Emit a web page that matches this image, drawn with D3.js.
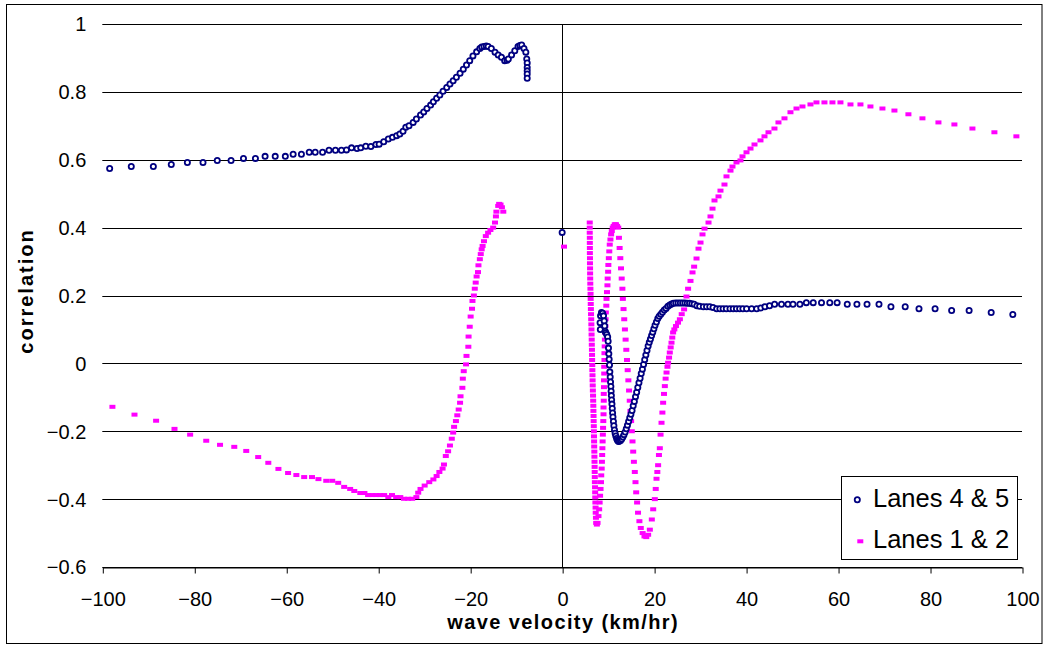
<!DOCTYPE html>
<html>
<head>
<meta charset="utf-8">
<script src="https://cdn.jsdelivr.net/npm/d3@7"></script>
<style>
  html, body { margin: 0; padding: 0; background: #fff; }
  svg { display: block; }
  text { font-family: "Liberation Sans", Arial, sans-serif; fill: #000; }
</style>
</head>
<body>
<svg id="chart" width="1047" height="646"></svg>
<script>
// ---------- DATA ----------
const xTicks = [-100, -80, -60, -40, -20, 0, 20, 40, 60, 80, 100];
const yTicks = [-0.6, -0.4, -0.2, 0, 0.2, 0.4, 0.6, 0.8, 1];
const seriesNames = ["Lanes 4 & 5", "Lanes 1 & 2"];

// Lanes 4 & 5, negative velocities
const lanes45Left = [
  [-98.4,0.574],[-93.7,0.580],[-88.9,0.580],[-85.0,0.586],[-81.5,0.592],[-78.1,0.592],
  [-75.0,0.598],[-72.0,0.598],[-69.3,0.604],[-66.7,0.604],[-64.6,0.610],[-62.4,0.610],
  [-60.2,0.610],[-58.5,0.616],[-56.7,0.616],[-55.0,0.622],[-53.7,0.622],[-52.1,0.622],
  [-50.7,0.628],[-49.3,0.628],[-48.0,0.628],[-46.9,0.629],[-45.8,0.635],[-44.6,0.633],
  [-43.8,0.635],[-42.7,0.640],[-41.6,0.639],[-40.5,0.645],[-39.8,0.646],[-38.8,0.653],
  [-37.8,0.661],[-36.9,0.666],[-36.0,0.671],[-35.3,0.676],[-34.6,0.684],[-34.0,0.696],
  [-33.3,0.700],[-32.4,0.710],[-31.7,0.720],[-30.8,0.732],[-30.1,0.741],[-29.4,0.751],
  [-28.6,0.761],[-28.0,0.771],[-27.3,0.781],[-26.6,0.791],[-25.9,0.802],[-25.1,0.813],
  [-24.4,0.823],[-23.7,0.833],[-23.0,0.843],[-22.2,0.855],[-21.5,0.867],[-20.8,0.879],
  [-20.1,0.892],[-19.4,0.906],[-18.6,0.918],[-17.9,0.928],[-17.5,0.932],[-17.0,0.934],
  [-16.5,0.935],[-16.1,0.934],[-15.4,0.928],[-14.6,0.917],[-13.9,0.909],[-13.2,0.902],
  [-12.5,0.892],[-12.0,0.893],[-11.7,0.897],[-11.0,0.909],[-10.3,0.921],[-9.6,0.934],
  [-9.2,0.937],[-8.8,0.938],[-8.3,0.928],[-7.9,0.917],[-7.7,0.897],[-7.6,0.885],
  [-7.6,0.872],[-7.6,0.862],[-7.6,0.853],[-7.6,0.840]
];
const lanes45Zero = [[0, 0.386]];
// Lanes 4 & 5, positive velocities
const lanes45Right = [
  [8.3,0.100],[8.25,0.120],[8.35,0.140],[8.55,0.150],[8.8,0.148],[9.0,0.140],[9.15,0.125],
  [9.25,0.110],[9.35,0.095],[9.5,0.090],[9.7,0.085],[9.9,0.078],[10.0,0.065],[10.08,0.045],
  [10.15,0.028],[10.22,0.012],[10.3,-0.005],[10.37,-0.025],[10.45,-0.040],[10.52,-0.055],
  [10.59,-0.068],[10.65,-0.082],[10.7,-0.095],[10.76,-0.108],[10.83,-0.120],[10.9,-0.133],
  [10.97,-0.146],[11.05,-0.158],[11.15,-0.171],[11.25,-0.184],[11.38,-0.196],[11.52,-0.206],
  [11.67,-0.214],[11.85,-0.221],[12.0,-0.226],[12.17,-0.229],[12.3,-0.230],[12.45,-0.229],
  [12.7,-0.227],[12.95,-0.223],[13.2,-0.217],[13.45,-0.210],[13.7,-0.202],[13.95,-0.193],
  [14.2,-0.182],[14.45,-0.171],[14.7,-0.160],[14.95,-0.150],[15.2,-0.139],[15.45,-0.125],
  [15.7,-0.112],[15.95,-0.098],[16.2,-0.085],[16.45,-0.071],[16.7,-0.057],[16.95,-0.044],
  [17.2,-0.030],[17.45,-0.017],[17.7,-0.003],[17.95,0.011],[18.2,0.025],[18.45,0.038],
  [18.7,0.051],[18.95,0.062],[19.2,0.072],[19.45,0.082],[19.7,0.092],[19.95,0.102],
  [20.2,0.112],[20.5,0.122],[20.8,0.132],[21.1,0.139],[21.45,0.145],[21.8,0.151],
  [22.2,0.157],[22.6,0.162],[23.0,0.168],[23.4,0.172],[23.8,0.175],[24.2,0.177],
  [24.7,0.178],[25.2,0.178],[25.7,0.178],[26.2,0.178],[26.7,0.178],[27.2,0.177],
  [27.7,0.177],[28.2,0.176],[28.7,0.174],[29.3,0.170],[29.9,0.168],[30.7,0.167],
  [31.4,0.167],[32.1,0.167],[32.8,0.165],[33.6,0.161],[34.3,0.161],[35.0,0.161],
  [35.7,0.161],[36.5,0.161],[37.2,0.161],[37.9,0.161],[38.6,0.161],[39.3,0.161],
  [40.1,0.161],[41.2,0.161],[42.3,0.161],[43.2,0.163],[44.1,0.167],[45.1,0.170],
  [46.2,0.174],[47.7,0.174],[49.1,0.174],[50.2,0.174],[51.7,0.174],[53.1,0.179],
  [54.6,0.179],[56.4,0.179],[58.2,0.179],[59.8,0.179],[62.0,0.174],[64.1,0.174],
  [66.3,0.174],[68.9,0.174],[71.5,0.167],[74.6,0.167],[77.6,0.161],[81.1,0.161],
  [84.7,0.156],[88.5,0.156],[93.3,0.150],[98.0,0.144]
];

// Lanes 1 & 2, negative velocities
const lanes12Left = [
  [-97.8,-0.128],[-93.0,-0.151],[-88.3,-0.169],[-84.3,-0.193],[-80.9,-0.210],[-77.4,-0.228],
  [-74.4,-0.240],[-71.3,-0.246],[-68.7,-0.258],[-66.1,-0.276],[-63.9,-0.293],[-61.7,-0.311],
  [-59.6,-0.323],[-57.8,-0.329],[-56.1,-0.335],[-54.4,-0.335],[-53.0,-0.341],[-51.3,-0.346],
  [-50.0,-0.346],[-48.7,-0.352],[-47.4,-0.364],[-46.1,-0.370],[-45.2,-0.376],[-43.9,-0.382],
  [-43.0,-0.382],[-42.2,-0.388],[-41.3,-0.388],[-40.4,-0.388],[-39.6,-0.388],[-38.7,-0.388],
  [-37.8,-0.394],[-37.0,-0.388],[-36.1,-0.394],[-35.2,-0.394],[-34.4,-0.399],[-33.5,-0.399],
  [-32.6,-0.399],[-31.7,-0.394],[-31.3,-0.381],[-30.8,-0.370],[-29.9,-0.360],[-28.9,-0.350],
  [-28.0,-0.342],[-27.3,-0.332],[-26.7,-0.320],[-26.0,-0.310],[-25.7,-0.298],[-25.3,-0.273],
  [-24.8,-0.259],[-24.4,-0.242],[-24.0,-0.222],[-23.7,-0.204],[-23.5,-0.187],[-23.1,-0.170],
  [-22.8,-0.153],[-22.5,-0.136],[-22.2,-0.116],[-22.1,-0.097],[-21.7,-0.072],[-21.6,-0.045],
  [-21.4,-0.023],[-20.9,-0.003],[-20.8,0.022],[-20.4,0.049],[-20.35,0.079],[-20.1,0.108],
  [-19.9,0.138],[-19.6,0.161],[-19.5,0.184],[-19.2,0.200],[-19.0,0.220],[-18.8,0.238],
  [-18.6,0.256],[-18.3,0.269],[-18.2,0.289],[-17.9,0.307],[-17.7,0.322],[-17.5,0.336],
  [-17.3,0.346],[-17.0,0.360],[-16.6,0.375],[-16.1,0.385],[-15.6,0.393],[-15.0,0.400],
  [-14.6,0.415],[-14.4,0.433],[-14.3,0.447],[-13.9,0.464],[-13.7,0.470],[-13.4,0.468],
  [-13.1,0.460],[-12.8,0.447]
];
const lanes12Zero = [[0.4, 0.344]];
// Lanes 1 & 2, positive velocities
const lanes12Right = [
  [6.0,0.415],[6.0,0.400],[6.0,0.385],[6.02,0.370],[6.02,0.355],[6.03,0.340],[6.03,0.325],
  [6.05,0.310],[6.05,0.295],[6.07,0.280],[6.08,0.265],[6.1,0.250],[6.12,0.235],[6.15,0.220],
  [6.18,0.205],[6.2,0.190],[6.22,0.175],[6.25,0.160],[6.28,0.145],[6.32,0.130],[6.35,0.115],
  [6.38,0.100],[6.4,0.085],[6.43,0.070],[6.45,0.055],[6.48,0.040],[6.5,0.025],[6.52,0.010],
  [6.55,-0.005],[6.57,-0.020],[6.6,-0.035],[6.62,-0.050],[6.65,-0.065],[6.68,-0.080],
  [6.72,-0.095],[6.75,-0.110],[6.78,-0.125],[6.8,-0.140],[6.83,-0.155],[6.85,-0.170],
  [6.88,-0.185],[6.9,-0.200],[6.92,-0.215],[6.95,-0.230],[6.97,-0.245],[7.0,-0.260],
  [7.02,-0.275],[7.04,-0.290],[7.06,-0.305],[7.08,-0.320],[7.1,-0.335],[7.12,-0.350],
  [7.15,-0.365],[7.18,-0.380],[7.2,-0.395],[7.23,-0.410],[7.27,-0.425],[7.3,-0.440],
  [7.35,-0.455],[7.4,-0.470],[7.55,-0.475],
  [7.7,-0.470],[7.9,-0.450],[8.05,-0.430],[8.15,-0.410],[8.25,-0.390],[8.35,-0.370],
  [8.45,-0.350],[8.5,-0.330],[8.6,-0.310],[8.65,-0.290],[8.7,-0.270],[8.75,-0.250],
  [8.8,-0.230],[8.85,-0.210],[8.9,-0.190],[8.95,-0.170],[9.0,-0.150],[9.0,-0.130],
  [9.05,-0.110],[9.05,-0.090],[9.1,-0.070],[9.1,-0.050],[9.15,-0.030],[9.15,-0.010],
  [9.2,0.010],[9.2,0.030],[9.25,0.050],[9.3,0.070],[9.35,0.090],[9.4,0.110],[9.45,0.130],
  [9.5,0.150],[9.6,0.170],[9.65,0.190],[9.75,0.210],[9.85,0.230],[9.9,0.250],[10.0,0.270],
  [10.05,0.290],[10.15,0.310],[10.25,0.330],[10.35,0.350],[10.5,0.365],[10.65,0.380],
  [10.8,0.390],[11.0,0.400],[11.2,0.405],[11.45,0.410],[11.7,0.410],[11.95,0.405],
  [12.2,0.400],[12.35,0.370],[12.5,0.340],[12.65,0.310],[12.8,0.280],[12.95,0.250],
  [13.1,0.220],[13.2,0.190],[13.35,0.160],[13.5,0.130],[13.65,0.100],[13.8,0.070],
  [13.95,0.040],[14.1,0.010],[14.25,-0.020],[14.4,-0.050],[14.55,-0.080],[14.7,-0.110],
  [14.85,-0.140],[15.0,-0.170],[15.15,-0.200],[15.3,-0.230],[15.45,-0.260],[15.6,-0.290],
  [15.8,-0.320],[15.95,-0.350],[16.1,-0.380],[16.3,-0.410],[16.5,-0.440],[16.8,-0.465],
  [17.1,-0.485],[17.5,-0.500],[17.9,-0.510],[18.3,-0.512],[18.7,-0.505],[19.07,-0.490],
  [19.5,-0.460],[19.8,-0.430],[20.15,-0.400],[20.35,-0.370],[20.52,-0.340],[20.7,-0.320],
  [20.87,-0.300],[21.05,-0.270],[21.24,-0.250],[21.4,-0.210],[21.61,-0.175],[21.8,-0.145],
  [21.96,-0.116],[22.15,-0.090],[22.33,-0.067],[22.5,-0.045],[22.7,-0.027],[22.9,-0.010],
  [23.04,0.002],[23.25,0.017],[23.41,0.032],[23.6,0.047],[23.78,0.061],[23.95,0.076],
  [24.13,0.091],[24.4,0.100],[24.75,0.110],[25.2,0.120],[25.6,0.130],[26.0,0.145],
  [26.52,0.159],[27.04,0.197],[27.39,0.220],[27.91,0.243],[28.35,0.268],[28.7,0.285],
  [29.22,0.309],[29.65,0.338],[30.09,0.356],[30.52,0.380],[30.96,0.397],[31.83,0.415],
  [32.26,0.433],[32.7,0.456],[33.13,0.480],[34.0,0.492],[34.43,0.509],[35.3,0.527],
  [35.74,0.551],[36.61,0.568],[37.04,0.580],[37.91,0.592],[38.78,0.598],[39.22,0.610],
  [40.09,0.622],[40.96,0.633],[41.83,0.645],[43.13,0.657],[44.0,0.669],[44.87,0.681],
  [46.17,0.692],[47.04,0.710],[48.35,0.722],[49.65,0.740],[50.96,0.751],[52.26,0.757],
  [54.0,0.763],[55.3,0.769],[57.04,0.769],[58.78,0.769],[60.52,0.769],[62.7,0.763],
  [64.87,0.763],[67.04,0.757],[69.65,0.751],[72.26,0.745],[75.3,0.734],[78.35,0.722],
  [81.83,0.710],[85.3,0.704],[89.22,0.692],[94.0,0.681],[98.78,0.669]
];

// ---------- CHART ----------
const svg = d3.select("#chart");
const W = 1047, H = 646;
const plot = { left: 102.3, right: 1022, top: 24, bottom: 567 };

const x = d3.scaleLinear().domain([-100, 100]).range([plot.left, plot.right]);
const y = d3.scaleLinear().domain([-0.6, 1]).range([plot.bottom, plot.top]);

svg.append("rect").attr("width", W).attr("height", H).attr("fill", "#fff");
// outer chart border
svg.append("rect")
  .attr("x", 6.5).attr("y", 4.5).attr("width", 1035.5).attr("height", 639)
  .attr("fill", "none").attr("stroke", "#000").attr("stroke-width", 1);

// gridlines
svg.append("g").selectAll("line").data(yTicks).join("line")
  .attr("x1", plot.left).attr("x2", plot.right)
  .attr("y1", d => Math.round(y(d)) + 0.5).attr("y2", d => Math.round(y(d)) + 0.5)
  .attr("stroke", "#000").attr("stroke-width", 1);

// vertical axis line at x = 0
svg.append("line")
  .attr("x1", Math.round(x(0)) + 0.5).attr("x2", Math.round(x(0)) + 0.5)
  .attr("y1", y(1)).attr("y2", y(-0.6))
  .attr("stroke", "#000").attr("stroke-width", 1);

// x axis (at y = -0.6)
const xAxis = d3.axisBottom(x).tickValues(xTicks).tickFormat(d3.format("d"))
  .tickSize(6).tickSizeOuter(0).tickPadding(18);
const gx = svg.append("g").attr("transform", `translate(0.5,${Math.round(y(-0.6)) + 0.5})`).call(xAxis);
gx.select(".domain").attr("stroke", "#000");
gx.selectAll(".tick line").attr("stroke", "#000");
gx.selectAll(".tick text").attr("font-size", 20).attr("font-family", "Liberation Sans, Arial, sans-serif").attr("fill", "#000");

// y axis labels (left)
const yAxis = d3.axisLeft(y).tickValues(yTicks).tickFormat(d => d3.format("")(+d.toFixed(1)))
  .tickSize(0).tickPadding(16);
const gy = svg.append("g").attr("transform", `translate(${plot.left},0.5)`).call(yAxis);
gy.select(".domain").remove();
gy.selectAll(".tick text").attr("font-size", 20).attr("font-family", "Liberation Sans, Arial, sans-serif").attr("fill", "#000");

// axis titles
svg.append("text")
  .attr("x", x(0) + 1).attr("y", 629)
  .attr("text-anchor", "middle").attr("font-size", 20).attr("font-weight", "bold")
  .attr("letter-spacing", "1.4px")
  .text("wave velocity (km/hr)");
svg.append("text")
  .attr("transform", "translate(33,291) rotate(-90)")
  .attr("text-anchor", "middle").attr("font-size", 20).attr("font-weight", "bold")
  .attr("letter-spacing", "2px")
  .text("correlation");

// data: Lanes 1 & 2 (magenta rectangles)
const pink = "#FF00FF", navy = "#000080";
const lanes12 = lanes12Left.concat(lanes12Zero, lanes12Right);
const lanes45 = lanes45Left.concat(lanes45Zero, lanes45Right);
const mw = 6, mh = 4;
svg.append("g").selectAll("rect").data(lanes12).join("rect")
  .attr("x", d => x(d[0]) - mw / 2).attr("y", d => y(d[1]) - mh / 2)
  .attr("width", mw).attr("height", mh).attr("fill", pink);

// data: Lanes 4 & 5 (navy hollow circles)
svg.append("g").selectAll("circle").data(lanes45).join("circle")
  .attr("cx", d => x(d[0])).attr("cy", d => y(d[1])).attr("r", 2.6)
  .attr("fill", "#fff").attr("stroke", navy).attr("stroke-width", 1.8);

// legend
const lg = svg.append("g");
lg.append("rect").attr("x", 841.5).attr("y", 476.5).attr("width", 176).attr("height", 83)
  .attr("fill", "#fff").attr("stroke", "#000").attr("stroke-width", 1);
lg.append("circle").attr("cx", 857.3).attr("cy", 499.7).attr("r", 2.6)
  .attr("fill", "#fff").attr("stroke", navy).attr("stroke-width", 1.8);
lg.append("rect").attr("x", 857.3).attr("y", 539.3).attr("width", mw).attr("height", mh).attr("fill", pink);
lg.selectAll("text.lab").data(seriesNames).join("text")
  .attr("class", "lab")
  .attr("x", 873).attr("y", (d, i) => i === 0 ? 506.5 : 547.5)
  .attr("font-size", 25.5)
  .text(d => d);
</script>
</body>
</html>
